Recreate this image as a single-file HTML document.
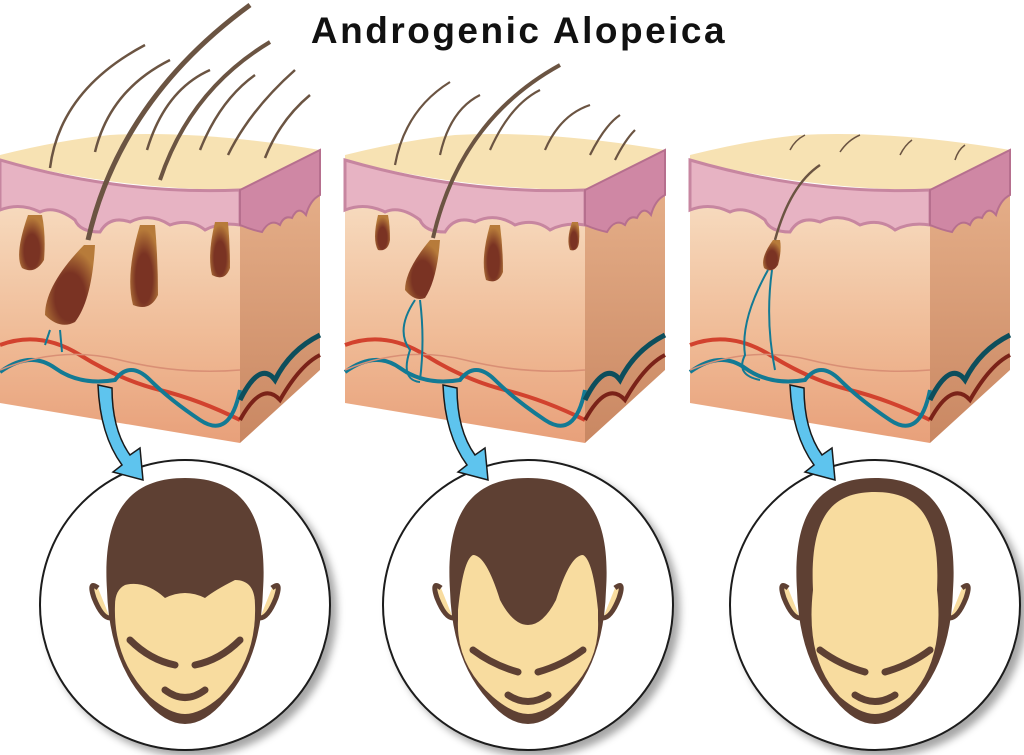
<!DOCTYPE html>
<html><head><style>
html,body{margin:0;padding:0;background:#fff;}
svg{display:block}
</style></head><body>
<svg width="1024" height="755" viewBox="0 0 1024 755" xmlns="http://www.w3.org/2000/svg">
<defs>
<linearGradient id="front" x1="0" y1="0" x2="0" y2="1">
<stop offset="0" stop-color="#f7dcc0"/><stop offset="0.6" stop-color="#efb994"/><stop offset="1" stop-color="#e8a07a"/></linearGradient>
<linearGradient id="side" x1="0" y1="0" x2="0" y2="1">
<stop offset="0" stop-color="#e9b48e"/><stop offset="1" stop-color="#c98762"/></linearGradient>
<radialGradient id="fol" cx="0.5" cy="0.65" r="0.6"><stop offset="0.5" stop-color="#7a3323"/><stop offset="1" stop-color="#b77b3a"/></radialGradient>
<filter id="sh" x="-10%" y="-10%" width="130%" height="130%"><feDropShadow dx="6" dy="6" stdDeviation="4" flood-color="#000" flood-opacity="0.35"/></filter>
<g id="block">
  <path d="M240,197 L320,153 L320,370 L240,443 Z" fill="url(#side)"/>
  <path d="M0,197 L240,197 L240,443 L0,403 Z" fill="url(#front)"/>
  <path d="M0,155 Q60,140 110,135 Q200,130 320,150 L240,190 Q120,190 0,160 Z" fill="#f7e2b3"/>
  <path d="M0,160 Q120,195 240,190 L240,225 Q220,222 205,230 Q190,218 170,225 Q150,212 130,222 Q110,215 100,232 Q80,232 75,220 Q55,205 40,212 Q20,202 0,210 Z" fill="#e7b3c3" stroke="#c786a0" stroke-width="3"/>
  <path d="M240,190 L320,150 L320,195 Q310,200 306,215 Q298,205 292,218 Q284,215 280,225 Q270,218 262,232 Q252,230 240,225 Z" fill="#cf87a4" stroke="#b66f8e" stroke-width="2"/>
  <path d="M0,345 Q40,330 80,355 T160,390 T240,420" fill="none" stroke="#d2422e" stroke-width="4"/>
  <path d="M0,372 Q30,350 55,368 T115,380 Q130,360 150,380 T200,420 T240,390" fill="none" stroke="#137a94" stroke-width="4"/>
  <path d="M0,370 Q60,345 120,360 T240,370" fill="none" stroke="#d98f75" stroke-width="1.5"/>
  <path d="M240,400 Q260,360 275,380 Q290,350 320,335" fill="none" stroke="#0d4e5c" stroke-width="5"/>
  <path d="M240,420 Q262,380 280,400 Q300,365 320,355" fill="none" stroke="#7a2218" stroke-width="4"/>
</g>
<g id="ear"><path d="M-12,0 Q-22,-8 -16,10 Q-8,30 0,30" fill="#f8dc9f" stroke="#5e4033" stroke-width="5"/></g>
<path id="headshape" d="M-78,590 C-84,500 -45,478 0,478 C45,478 84,500 78,590 Q76,660 40,700 Q20,724 0,724 Q-20,724 -40,700 Q-76,660 -78,590 Z" fill="#5e4033"/>
</defs>

<text x="519" y="43" text-anchor="middle" font-family="Liberation Sans, sans-serif" font-weight="bold" font-size="37" fill="#111" letter-spacing="2.5">Androgenic Alopeica</text>

<use href="#block" x="0" y="0"/>
<use href="#block" x="345" y="0"/>
<use href="#block" x="690" y="0"/>

<g>
<path d="M28,215 Q14,255 22,268 Q35,275 44,260 Q46,235 42,215Z" fill="url(#fol)"/>
<path d="M140,225 Q125,275 133,305 Q150,312 158,295 Q158,260 155,225Z" fill="url(#fol)"/>
<path d="M215,222 Q207,255 212,275 Q225,282 230,268 Q230,245 228,222Z" fill="url(#fol)"/>
<path d="M84,245 Q45,285 45,315 Q60,330 75,322 Q92,300 95,245Z" fill="url(#fol)"/>
<path d="M88,240 Q120,100 250,5" fill="none" stroke="#6b5442" stroke-width="5"/>
<path d="M160,180 Q190,90 270,42" fill="none" stroke="#6b5442" stroke-width="4"/>
<g fill="none" stroke="#6b5442" stroke-width="2.5">
<path d="M50,168 Q60,90 145,45"/><path d="M95,152 Q110,90 170,60"/><path d="M147,150 Q165,90 210,70"/>
<path d="M200,150 Q220,100 255,75"/><path d="M228,155 Q250,110 295,70"/><path d="M265,158 Q280,120 310,95"/>
</g>
<path d="M50,330 L45,345 M60,330 L62,352" stroke="#137a94" stroke-width="2" fill="none"/>
</g>
<g>
<path d="M378,215 Q372,240 378,250 Q388,252 390,240 Q390,225 388,215Z" fill="url(#fol)"/>
<path d="M490,225 Q480,260 486,280 Q498,285 503,272 Q503,248 500,225Z" fill="url(#fol)"/>
<path d="M572,222 Q566,240 570,250 Q578,252 579,242 Q580,230 578,222Z" fill="url(#fol)"/>
<path d="M430,240 Q405,270 405,290 Q415,302 425,298 Q437,280 440,240Z" fill="url(#fol)"/>
<path d="M433,238 Q460,120 560,65" fill="none" stroke="#6b5442" stroke-width="4"/>
<g fill="none" stroke="#6b5442" stroke-width="2.2">
<path d="M395,165 Q405,110 450,82"/><path d="M440,155 Q450,110 480,95"/><path d="M490,150 Q510,105 540,90"/>
<path d="M545,150 Q560,115 590,105"/><path d="M590,155 Q605,125 620,115"/><path d="M615,160 Q625,140 635,130"/>
</g>
<path d="M415,300 Q395,330 410,350 Q400,380 420,382 M420,300 Q425,340 420,380" stroke="#137a94" stroke-width="2" fill="none"/>
</g>
<g>
<path d="M773,240 Q760,258 764,268 Q772,274 778,265 Q782,250 780,240Z" fill="url(#fol)"/>
<path d="M775,240 Q790,185 820,165" fill="none" stroke="#6b5442" stroke-width="2.5"/>
<g fill="none" stroke="#6b5442" stroke-width="1.5">
<path d="M790,150 Q795,140 805,135"/><path d="M840,152 Q848,140 860,135"/><path d="M900,155 Q905,145 912,140"/><path d="M955,160 Q958,150 965,145"/>
</g>
<path d="M768,270 Q740,320 745,355 Q735,375 760,380 M772,270 Q765,320 775,370" stroke="#137a94" stroke-width="2" fill="none"/>
</g>

<circle cx="185" cy="605" r="145" fill="#fff" stroke="#1a1a1a" stroke-width="2" filter="url(#sh)"/>
<circle cx="528" cy="605" r="145" fill="#fff" stroke="#1a1a1a" stroke-width="2" filter="url(#sh)"/>
<circle cx="875" cy="605" r="145" fill="#fff" stroke="#1a1a1a" stroke-width="2" filter="url(#sh)"/>

<g transform="translate(185,0)">
  <use href="#ear" x="-75" y="588"/>
  <use href="#ear" transform="translate(75,588) scale(-1,1)"/>
  <use href="#headshape"/>
  <path d="M-70,605 Q-72,660 -35,697 Q-15,714 0,714 Q15,714 35,697 Q72,660 70,605 Q70,580 50,580 Q30,590 20,598 Q0,588 -20,598 Q-40,580 -60,585 Q-70,590 -70,605Z" fill="#f8dc9f"/>
  <path d="M-55,640 Q-35,660 -10,665 M55,640 Q35,660 10,665 M-20,690 Q0,705 20,690" stroke="#5e4033" stroke-width="7" fill="none" stroke-linecap="round"/>
</g>
<g transform="translate(528,0)">
  <use href="#ear" x="-75" y="588"/>
  <use href="#ear" transform="translate(75,588) scale(-1,1)"/>
  <use href="#headshape"/>
  <path d="M-70,620 Q-72,665 -35,697 Q-15,714 0,714 Q15,714 35,697 Q72,665 70,620 L70,610 Q65,560 55,555 Q42,555 28,600 Q15,625 0,625 Q-15,625 -28,600 Q-42,555 -55,555 Q-65,560 -70,610Z" fill="#f8dc9f"/>
  <path d="M-55,650 Q-35,665 -10,672 M55,650 Q35,665 10,672 M-20,695 Q0,708 20,695" stroke="#5e4033" stroke-width="7" fill="none" stroke-linecap="round"/>
</g>
<g transform="translate(875,0)">
  <use href="#ear" x="-75" y="588"/>
  <use href="#ear" transform="translate(75,588) scale(-1,1)"/>
  <use href="#headshape"/>
  <path d="M-62,590 C-66,510 -38,492 0,492 C38,492 66,510 62,590 Q70,660 35,697 Q15,714 0,714 Q-15,714 -35,697 Q-70,660 -62,590Z" fill="#f8dc9f"/>
  <path d="M-55,650 Q-35,665 -10,672 M55,650 Q35,665 10,672 M-20,695 Q0,708 20,695" stroke="#5e4033" stroke-width="7" fill="none" stroke-linecap="round"/>
</g>

<g fill="#5ec4ee" stroke="#1a1a1a" stroke-width="1.5">
<path d="M98,385 L112,388 Q112,430 130,455 L140,448 L143,480 L113,472 L122,465 Q100,435 98,385Z"/>
<path d="M443,385 L457,388 Q457,430 475,455 L485,448 L488,480 L458,472 L467,465 Q445,435 443,385Z"/>
<path d="M790,385 L804,388 Q804,430 822,455 L832,448 L835,480 L805,472 L814,465 Q792,435 790,385Z"/>
</g>
</svg>
</body></html>
